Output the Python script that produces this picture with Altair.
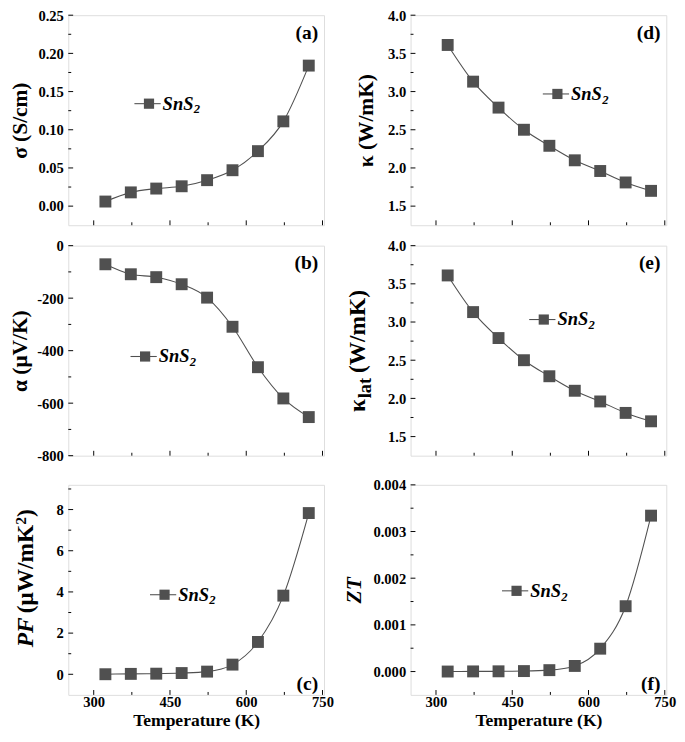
import altair as alt
import pandas as pd

# ---------------- data ----------------
T = [323, 373, 423, 473, 523, 573, 623, 673, 723]
sigma = [0.006, 0.018, 0.023, 0.026, 0.034, 0.047, 0.072, 0.111, 0.184]
alpha = [-71, -109, -120, -147, -198, -309, -463, -582, -653]
pf = [0.003, 0.02, 0.03, 0.06, 0.13, 0.47, 1.57, 3.82, 7.83]
kappa = [3.61, 3.13, 2.79, 2.50, 2.29, 2.10, 1.96, 1.81, 1.70]
kappa_lat = [3.61, 3.13, 2.79, 2.50, 2.29, 2.10, 1.96, 1.81, 1.70]
zt = [0.0000003, 0.000003, 0.000005, 0.00001, 0.00003, 0.00012, 0.00049, 0.0014, 0.00334]

x_major = [300, 450, 600, 750]
x_minor = [375, 525, 675]
legend_main = ["SnS"]
legend_sub = ["2"]
x_title = "Temperature (K)"

FONT = "Times New Roman, Liberation Serif, serif"
MARK = "#505050"
E = 30  # fixed y-axis extent
H = 216
W_L = 263
W_R = 263


def txt(s, x, y, size, style="normal", angle=0, align="left", baseline="middle"):
    kw = dict(font=FONT, fontSize=size, fontWeight="bold", fontStyle=style,
              align=align, baseline=baseline, color="black")
    if angle:
        kw["angle"] = angle
    return alt.Chart(pd.DataFrame({"s": [s]})).mark_text(**kw).encode(
        x=alt.value(x), y=alt.value(y), text="s:N")


def panel(vals, ydom, ymaj, ymin, lexpr, width, xmode, title, d, letter,
          letter_bottom, leg, title_style="normal", custom=None):
    df = pd.DataFrame({"T": T, "v": vals})
    xs = alt.Scale(domain=[250, 753], nice=False, zero=False)
    ys = alt.Scale(domain=ydom, nice=False, zero=False)
    ykw = dict(values=ymaj, labelExpr=lexpr, labelFont=FONT, labelFontWeight="bold",
               labelFontSize=15, labelColor="black", labelPadding=5, ticks=False,
               tickSize=0, domain=False, grid=False, minExtent=E, maxExtent=E)
    if title:
        yaxis = alt.Axis(title=title, titleFont=FONT, titleFontSize=22,
                         titleFontWeight="bold", titleFontStyle=title_style,
                         titleColor="black", titlePadding=d - E, **ykw)
    else:
        yaxis = alt.Axis(title=None, **ykw)
    if xmode == "none":
        xaxis = alt.Axis(labels=False, ticks=False, domain=False, grid=False,
                         title=None, values=x_major)
    elif xmode == "hidden":
        xaxis = alt.Axis(values=x_major, labelColor="white", labelFontSize=7,
                         labelPadding=2, ticks=False, tickSize=0, domain=False,
                         grid=False, title=None, labelFlush=False)
    else:
        xaxis = alt.Axis(values=x_major, format="d", labelFont=FONT,
                         labelFontWeight="bold", labelFontSize=15, labelColor="black",
                         labelPadding=0, ticks=False, tickSize=0, domain=False,
                         grid=False, labelFlush=False, title=x_title, titleFont=FONT,
                         titleFontSize=18, titleFontWeight="bold", titleColor="black",
                         titlePadding=2)
    base = alt.Chart(df)
    X = lambda f: alt.X(f, scale=xs, axis=xaxis)
    Y = lambda f: alt.Y(f, scale=ys, axis=yaxis)
    line = base.mark_line(interpolate="monotone", color=MARK, strokeWidth=1.1).encode(
        x=X("T:Q"), y=Y("v:Q"))
    pts = base.mark_point(shape="square", filled=True, size=150, color=MARK,
                          opacity=1).encode(x=X("T:Q"), y=Y("v:Q"))
    layers = [line, pts]
    for vals_t, ln in ((ymaj, 5), (ymin, 3)):
        layers.append(alt.Chart(pd.DataFrame({"v": vals_t})).mark_rule(
            color="black", strokeWidth=1).encode(
            y=Y("v:Q"), x=alt.value(0), x2=alt.value(ln)))
    for vals_t, ln in ((x_major, 5), (x_minor, 3)):
        layers.append(alt.Chart(pd.DataFrame({"T": vals_t})).mark_rule(
            color="black", strokeWidth=1).encode(
            x=X("T:Q"), y=alt.value(H), y2=alt.value(H - ln)))
    cx, cy = leg
    one = pd.DataFrame({"s": legend_main})
    layers.append(alt.Chart(one).mark_rule(color=MARK, strokeWidth=1.1).encode(
        x=alt.value(cx - 15), x2=alt.value(cx + 12), y=alt.value(cy)))
    layers.append(alt.Chart(one).mark_point(shape="square", filled=True, size=110,
                                            color=MARK, opacity=1).encode(
        x=alt.value(cx), y=alt.value(cy)))
    layers.append(alt.Chart(one).mark_text(font=FONT, fontSize=19, fontWeight="bold",
                                           fontStyle="italic", align="left",
                                           baseline="middle", color="black").encode(
        x=alt.value(cx + 14), y=alt.value(cy), text="s:N"))
    layers.append(alt.Chart(pd.DataFrame({"s": legend_sub})).mark_text(
        font=FONT, fontSize=13, fontWeight="bold", fontStyle="italic", align="left",
        baseline="middle", color="black").encode(
        x=alt.value(cx + 46), y=alt.value(cy + 6), text="s:N"))
    layers.append(txt(letter, width - 6, H - 11 if letter_bottom else 18, 20,
                      align="right"))
    if custom:
        for (s, x, y, size, style) in custom:
            layers.append(txt(s, x, y, size, style=style, angle=270,
                              align="left", baseline="bottom"))
    return alt.layer(*layers).properties(width=width, height=H)


pa = panel(sigma, [-0.025, 0.25], [0, 0.05, 0.10, 0.15, 0.20, 0.25],
           [0.025, 0.075, 0.125, 0.175, 0.225], "format(datum.value, '.2f')",
           W_L, "none", "σ (S/cm)", 38, "(a)", False, (83, 91))
pb = panel(alpha, [-800, 0], [-800, -600, -400, -200, 0], [-700, -500, -300, -100],
           "replace(format(datum.value, 'd'), '\u2212', '-')",
           W_L, "hidden", "α (μV/K)", 38, "(b)", False, (79, 114))
pc = panel(pf, [-1, 9.2], [0, 2, 4, 6, 8], [1, 3, 5, 7, 9],
           "format(datum.value, 'd')", W_L, "full", None, 31, "(c)", True, (99, 113),
           custom=[("PF", -31, 167, 24, "italic"),
                   ("(μW/mK", -31, 132, 24, "normal"),
                   ("2", -41, 41, 16, "normal"),
                   (")", -31, 33, 24, "normal")])
pd_ = panel(kappa, [1.25, 4.0], [1.5, 2.0, 2.5, 3.0, 3.5, 4.0],
            [1.75, 2.25, 2.75, 3.25, 3.75], "format(datum.value, '.1f')",
            W_R, "none", "κ (W/mK)", 34, "(d)", False, (151, 81))
pe = panel(kappa_lat, [1.25, 4.0], [1.5, 2.0, 2.5, 3.0, 3.5, 4.0],
           [1.75, 2.25, 2.75, 3.25, 3.75], "format(datum.value, '.1f')",
           W_R, "hidden", None, 42, "(e)", False, (137, 76),
           custom=[("κ", -42, 171, 24, "normal"),
                   ("lat", -37, 157, 19, "normal"),
                   ("(W/mK)", -42, 131, 24, "normal")])
pf_ = panel(zt, [-0.0005, 0.004], [0, 0.001, 0.002, 0.003, 0.004],
            [0.0005, 0.0015, 0.0025, 0.0035], "format(datum.value, '.3f')",
            W_R, "full", "ZT", 46, "(f)", True, (109, 109), title_style="italic")

chart = alt.concat(pa, pd_, pb, pe, pc, pf_, columns=2,
                   spacing={"row": 12, "column": 8}, align="each",
                   padding={"left": 0, "top": -11, "right": 0, "bottom": 0}
                   ).configure_view(stroke="black", strokeWidth=1.5
                   ).configure(background="white")

chart.save("out.html", embed_options={"renderer": "svg", "actions": False})
